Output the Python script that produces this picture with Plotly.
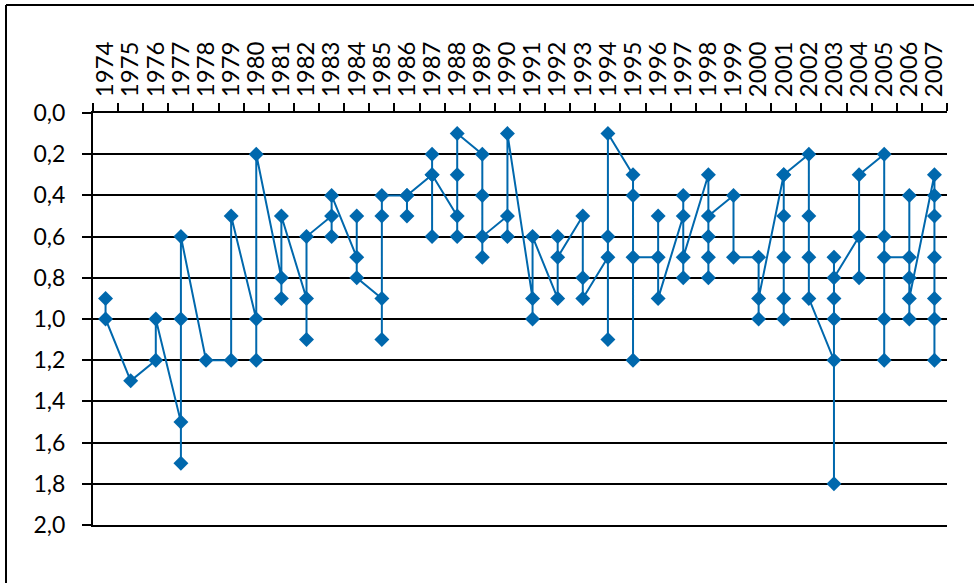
import plotly.graph_objects as go

# Years shown along the top axis
years = [str(y) for y in range(1974, 2008)]

# Readings per year, in the order they are linked by the line
readings = [
    [0.9, 1.0],                         # 1974
    [1.3],                              # 1975
    [1.2, 1.0],                         # 1976
    [1.5, 1.7, 1.0, 0.6],               # 1977
    [1.2],                              # 1978
    [1.2, 0.5],                         # 1979
    [1.0, 1.2, 0.2],                    # 1980
    [0.8, 0.9, 0.5],                    # 1981
    [0.9, 1.1, 0.6],                    # 1982
    [0.5, 0.6, 0.4],                    # 1983
    [0.7, 0.5, 0.8],                    # 1984
    [0.9, 1.1, 0.5, 0.4],               # 1985
    [0.4, 0.5, 0.4],                    # 1986
    [0.3, 0.2, 0.6, 0.3],               # 1987
    [0.5, 0.6, 0.3, 0.1],               # 1988
    [0.2, 0.4, 0.7, 0.6],               # 1989
    [0.5, 0.6, 0.1],                    # 1990
    [0.9, 1.0, 0.6],                    # 1991
    [0.9, 0.6, 0.7],                    # 1992
    [0.5, 0.8, 0.9],                    # 1993
    [0.7, 1.1, 0.6, 0.1],               # 1994
    [0.3, 0.4, 1.2, 0.7],               # 1995
    [0.7, 0.5, 0.9],                    # 1996
    [0.5, 0.4, 0.8, 0.7],               # 1997
    [0.3, 0.6, 0.7, 0.8, 0.5],          # 1998
    [0.4, 0.7],                         # 1999
    [0.7, 1.0, 0.9],                    # 2000
    [0.3, 0.5, 0.7, 0.9, 1.0, 0.3],     # 2001
    [0.2, 0.5, 0.7, 0.9],               # 2002
    [1.2, 1.8, 1.0, 0.9, 0.7, 0.8],     # 2003
    [0.6, 0.8, 0.3],                    # 2004
    [0.2, 0.6, 1.0, 1.2, 0.7],          # 2005
    [0.7, 0.4, 0.8, 1.0, 0.9],          # 2006
    [0.3, 0.4, 0.5, 0.7, 0.9, 1.0, 1.2],  # 2007
]

y_ticks = [round(0.2 * i, 1) for i in range(11)]

x_pts, y_pts = [], []
for yr, vals in zip(years, readings):
    for v in vals:
        x_pts.append(yr)
        y_pts.append(v)

BLUE = "#0068AD"
FONT = "Lato, 'Open Sans', sans-serif"

fig = go.Figure(
    go.Scatter(
        x=x_pts,
        y=y_pts,
        mode="lines+markers",
        line=dict(color=BLUE, width=2),
        marker=dict(symbol="diamond", size=11.5, color=BLUE),
        showlegend=False,
        cliponaxis=False,
    )
)

W, H = 974, 583
L, R, T, B = 93, 27, 113, 58
pw, ph = W - L - R, H - T - B

fig.update_layout(
    width=W,
    height=H,
    margin=dict(l=L, r=R, t=T, b=B),
    paper_bgcolor="white",
    plot_bgcolor="white",
    separators=", ",
    font=dict(family=FONT, size=23, color="black"),
    xaxis=dict(
        type="category",
        categoryorder="array",
        categoryarray=years,
        range=[-0.5, len(years) - 0.5],
        side="top",
        tickmode="array",
        tickvals=years,
        ticktext=years,
        showline=True,
        mirror=True,
        linecolor="black",
        linewidth=2,
        showgrid=False,
        ticks="outside",
        tickson="boundaries",
        ticklen=8,
        tickwidth=2,
        tickcolor="black",
        tickangle=-90,
        ticklabelstandoff=9,
        tickfont=dict(family=FONT, size=24, color="black"),
    ),
    yaxis=dict(
        range=[2.0, 0.0],
        tickmode="array",
        tickvals=y_ticks,
        tickformat=".1f",
        showline=True,
        linecolor="black",
        linewidth=2,
        showgrid=True,
        gridcolor="black",
        gridwidth=2,
        zeroline=False,
        ticks="outside",
        ticklen=9,
        tickwidth=2,
        tickcolor="black",
        ticklabelstandoff=12,
        tickfont=dict(family=FONT, size=23, color="black"),
    ),
    shapes=[
        # outer chart frame (top and left edges)
        dict(type="line", xref="paper", yref="paper",
             x0=(6 - L) / pw, x1=(W + 10 - L) / pw,
             y0=(H - B - 5) / ph, y1=(H - B - 5) / ph,
             line=dict(color="black", width=2)),
        dict(type="line", xref="paper", yref="paper",
             x0=(6 - L) / pw, x1=(6 - L) / pw,
             y0=(H - B - 5) / ph, y1=-(B + 10) / ph,
             line=dict(color="black", width=2)),
    ],
)

fig.write_html("out.html")
